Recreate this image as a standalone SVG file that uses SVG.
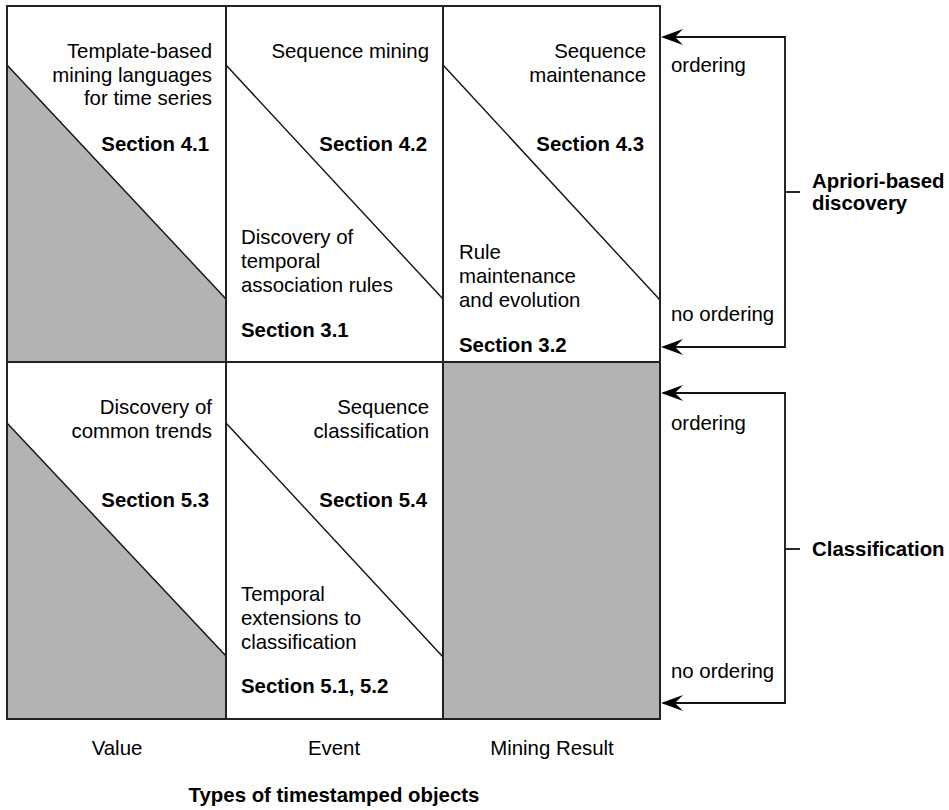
<svg xmlns="http://www.w3.org/2000/svg" width="949" height="810" viewBox="0 0 949 810">
<defs>
<style>
text{font-family:"Liberation Sans",Arial,sans-serif;font-size:20.4px;fill:#000}
.b{font-weight:bold}
.r{text-anchor:end}
.m{text-anchor:middle}
.grid{fill:none;stroke:#222;stroke-width:2}
.diag{stroke:#111;stroke-width:1.4;fill:none}
.shade{fill:#b3b3b3;stroke:none}
.conn{fill:none;stroke:#111;stroke-width:1.8}
.ah{fill:#000;stroke:none}
</style>
<path id="arrowL" class="ah" d="M0,0 L22,-8 L14,0 L22,8 Z"/>
</defs>
<rect x="0" y="0" width="949" height="810" fill="#fff"/>

<g id="cell-value-apriori">
<polygon class="shade" points="7,65 226,299 226,362 7,362"/>
<line class="diag" x1="7" y1="65" x2="226" y2="299"/>
<text class="r" x="212" y="58">Template-based</text>
<text class="r" x="212" y="81.5">mining languages</text>
<text class="r" x="212" y="105">for time series</text>
<text class="r b" x="209" y="151">Section 4.1</text>
</g>

<g id="cell-event-apriori">
<line class="diag" x1="226" y1="65" x2="443" y2="299"/>
<text class="r" x="429" y="58">Sequence mining</text>
<text class="r b" x="427" y="151">Section 4.2</text>
<text x="241" y="244">Discovery of</text>
<text x="241" y="268">temporal</text>
<text x="241" y="292">association rules</text>
<text class="b" x="241" y="337">Section 3.1</text>
</g>

<g id="cell-result-apriori">
<line class="diag" x1="443" y1="65" x2="660" y2="300"/>
<text class="r" x="646" y="58">Sequence</text>
<text class="r" x="646" y="81.5">maintenance</text>
<text class="r b" x="644" y="151">Section 4.3</text>
<text x="459" y="259">Rule</text>
<text x="459" y="283">maintenance</text>
<text x="459" y="307">and evolution</text>
<text class="b" x="459" y="352">Section 3.2</text>
</g>

<g id="cell-value-class">
<polygon class="shade" points="7,423 226,656 226,719 7,719"/>
<line class="diag" x1="7" y1="423" x2="226" y2="656"/>
<text class="r" x="212" y="414">Discovery of</text>
<text class="r" x="212" y="437.5">common trends</text>
<text class="r b" x="209" y="507">Section 5.3</text>
</g>

<g id="cell-event-class">
<line class="diag" x1="226" y1="423" x2="443" y2="657"/>
<text class="r" x="429" y="414">Sequence</text>
<text class="r" x="429" y="437.5">classification</text>
<text class="r b" x="427" y="507">Section 5.4</text>
<text x="241" y="601">Temporal</text>
<text x="241" y="625">extensions to</text>
<text x="241" y="648.5">classification</text>
<text class="b" x="241" y="693">Section 5.1, 5.2</text>
</g>

<g id="cell-result-class">
<rect class="shade" x="443" y="362" width="217" height="357"/>
</g>

<g id="grid">
<rect class="grid" x="7" y="6" width="653" height="713"/>
<line class="grid" x1="226" y1="6" x2="226" y2="719"/>
<line class="grid" x1="443" y1="6" x2="443" y2="719"/>
<line class="grid" x1="7" y1="362" x2="660" y2="362"/>
</g>

<g id="connectors">
<polyline class="conn" points="672,37 785,37 785,347 672,347"/>
<line class="conn" x1="785" y1="192" x2="800" y2="192"/>
<use href="#arrowL" x="661" y="37"/>
<use href="#arrowL" x="661" y="347"/>
<polyline class="conn" points="672,393 785,393 785,703 672,703"/>
<line class="conn" x1="785" y1="549" x2="800" y2="549"/>
<use href="#arrowL" x="661" y="393"/>
<use href="#arrowL" x="661" y="703"/>
</g>

<g id="label-apriori">
<text x="671" y="72">ordering</text>
<text x="671" y="321">no ordering</text>
<text class="b" x="812" y="188">Apriori-based</text>
<text class="b" x="812" y="210">discovery</text>
</g>

<g id="label-class">
<text x="671" y="430">ordering</text>
<text x="671" y="678">no ordering</text>
<text class="b" x="812" y="556">Classification</text>
</g>

<g id="axis">
<text class="m" x="117" y="755">Value</text>
<text class="m" x="334" y="755">Event</text>
<text class="m" x="552" y="755">Mining Result</text>
<text class="m b" x="334" y="802">Types of timestamped objects</text>
</g>
</svg>
